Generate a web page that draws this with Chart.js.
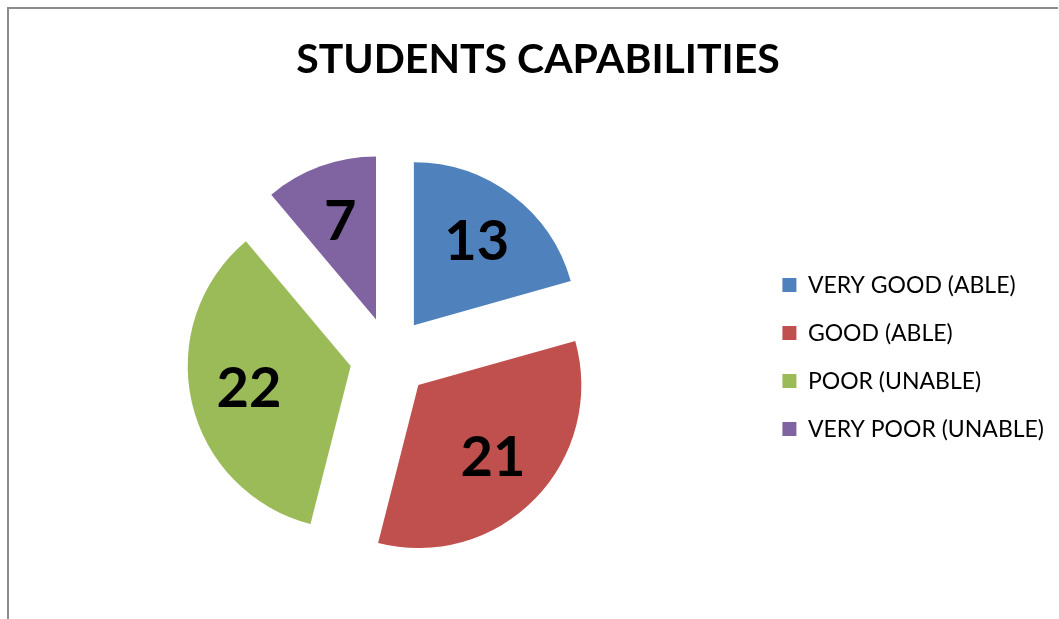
<!DOCTYPE html>
<html>
<head>
<meta charset="utf-8">
<title>Students Capabilities</title>
<script src="https://cdn.jsdelivr.net/npm/chart.js@4.4.1/dist/chart.umd.min.js"></script>
<style>
    html, body { margin: 0; padding: 0; background: #fff; overflow: hidden; }
    #wrap { position: relative; width: 1059px; height: 619px; }
    #frame {
        position: absolute; left: 7px; top: 7px; right: 1px; bottom: -4px;
        border-top: 2px solid #8c8c8c; border-left: 2px solid #8c8c8c;
    }
    #chart { position: absolute; left: 0; top: 0; }
</style>
</head>
<body>
<div id="wrap">
    <div id="frame"></div>
    <canvas id="chart" width="1059" height="619"></canvas>
</div>
<script>
// chart data
const categories = ['VERY GOOD (ABLE)', 'GOOD (ABLE)', 'POOR (UNABLE)', 'VERY POOR (UNABLE)'];
const students = [13, 21, 22, 7];
const sliceColors = ['#4F81BD', '#C0504D', '#9BBB59', '#8064A2'];

const EXPLODE = 40;      // how far each slice is pulled out from the centre
const LABEL_POS = 0.64;  // label distance along the slice, as a fraction of the radius

Chart.defaults.font.family = 'Lato';

// Pulls every slice out along its bisector and draws it there
const explodePlugin = {
    id: 'explode',
    beforeDatasetDraw(chart, args) {
        const ctx = chart.ctx;
        args.meta.data.forEach(function(arc) {
            const mid = (arc.startAngle + arc.endAngle) / 2;
            ctx.save();
            ctx.translate(Math.cos(mid) * EXPLODE, Math.sin(mid) * EXPLODE);
            arc.draw(ctx);
            ctx.restore();
        });
        return false;
    }
};

// Value labels inside the slices
const valueLabels = {
    id: 'valueLabels',
    afterDatasetsDraw(chart) {
        const ctx = chart.ctx;
        const meta = chart.getDatasetMeta(0);
        ctx.save();
        ctx.font = 'bold 56px Lato';
        ctx.fillStyle = '#000';
        ctx.textAlign = 'center';
        ctx.textBaseline = 'middle';
        meta.data.forEach(function(arc, i) {
            const mid = (arc.startAngle + arc.endAngle) / 2;
            const dist = EXPLODE + arc.outerRadius * LABEL_POS;
            ctx.fillText(String(students[i]), arc.x + Math.cos(mid) * dist, arc.y + Math.sin(mid) * dist);
        });
        ctx.restore();
    }
};

const ctx = document.getElementById('chart').getContext('2d');
const capChart = new Chart(ctx, {
    type: 'pie',
    data: {
        labels: categories,
        datasets: [{
            data: students,
            backgroundColor: sliceColors,
            borderWidth: 0,
            hoverOffset: 0,
            radius: 163
        }]
    },
    options: {
        responsive: false,
        animation: false,
        layout: {
            padding: { left: 22, right: 5, top: 0, bottom: 0 }
        },
        plugins: {
            title: {
                display: true,
                text: 'STUDENTS CAPABILITIES',
                color: '#000',
                font: { size: 41, weight: 'bold' },
                padding: { top: 35, bottom: 11 }
            },
            legend: {
                position: 'right',
                fullSize: false,
                labels: {
                    color: '#000',
                    font: { size: 23 },
                    boxWidth: 14,
                    boxHeight: 14,
                    padding: 25
                }
            },
            tooltip: { enabled: false }
        }
    },
    plugins: [explodePlugin, valueLabels]
});
</script>
</body>
</html>
